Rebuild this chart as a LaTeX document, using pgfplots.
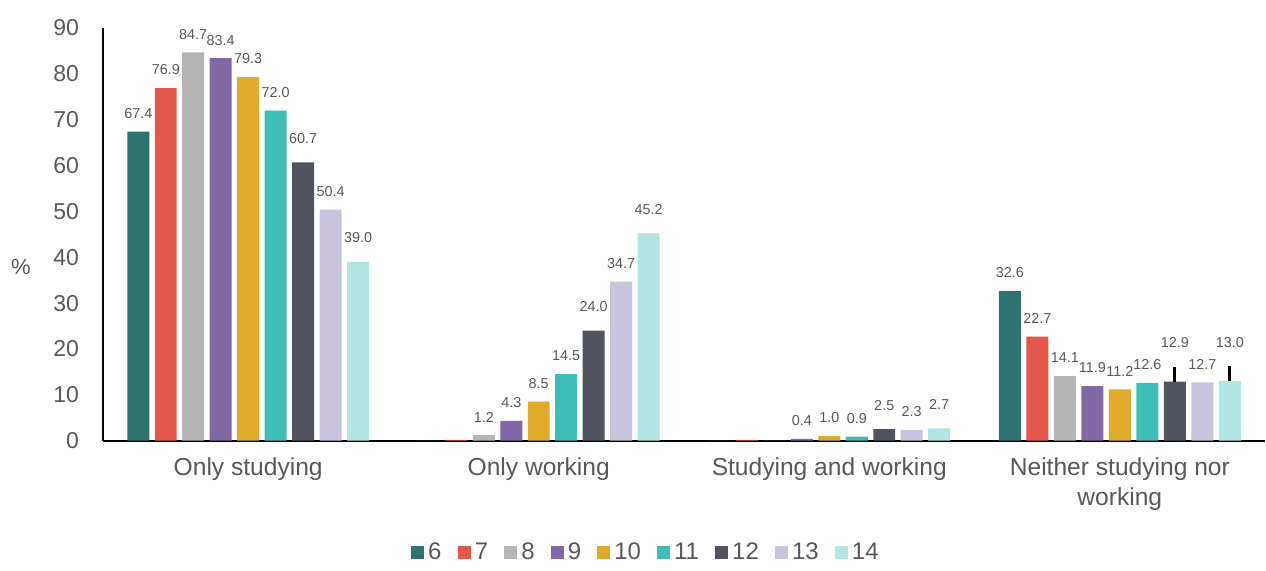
\documentclass[border=0pt]{standalone}
\usepackage{pgfplots}
\pgfplotsset{compat=1.18}
\usepackage{pgfplotstable}
\usepackage{fontspec}
\setmainfont{Liberation Sans}

\definecolor{c6}{HTML}{2E7370}
\definecolor{c7}{HTML}{E5574A}
\definecolor{c8}{HTML}{B5B5B5}
\definecolor{c9}{HTML}{8069A5}
\definecolor{c10}{HTML}{E0AB2A}
\definecolor{c11}{HTML}{3DBFB8}
\definecolor{c12}{HTML}{51535E}
\definecolor{c13}{HTML}{CAC3DE}
\definecolor{c14}{HTML}{B1E6E3}
\definecolor{txt}{HTML}{595959}

% groups: 0 only studying, 1 only working, 2 studying and working, 3 neither
\pgfplotstableread{
g  s6   s7   s8   s9   s10  s11  s12  s13  s14  e12  e14
0  67.4 76.9 84.7 83.4 79.3 72.0 60.7 50.4 39.0 0    0
1  0.0  0.2  1.2  4.3  8.5  14.5 24.0 34.7 45.2 0    0
2  0.0  0.2  0.0  0.4  1.0  0.9  2.5  2.3  2.7  0    0
3  32.6 22.7 14.1 11.9 11.2 12.6 12.9 12.7 13.0 3.2  3.2
}\data

\begin{document}
\begin{tikzpicture}
\begin{axis}[
  scale only axis,
  width=581.5pt, height=206.5pt,
  ybar=2.75pt, bar width=11pt,
  xmin=-0.5, xmax=3.5, ymin=0, ymax=90,
  axis x line*=bottom, axis y line*=left,
  axis line style={-, black, line width=0.9pt},
  major tick length=0pt,
  xtick={0,1,2,3},
  xticklabels={Only studying, Only working, Studying and working, {Neither studying nor\\working}},
  xticklabel style={align=center, font=\fontsize{12.3}{15}\selectfont, text=txt, yshift=-5pt},
  ytick={0,10,...,90},
  yticklabel style={font=\fontsize{11.5}{13}\selectfont, text=txt, xshift=-8.5pt},
  /pgf/number format/assume math mode=true,
  ylabel={\%},
  ylabel style={rotate=-90, font=\fontsize{11}{13}\selectfont, text=txt, at={(axis description cs:-0.0705,0.42)}, anchor=center},
  every axis plot/.append style={draw=none},
  visualization depends on=rawy \as \rawy,
  nodes near coords={\pgfmathparse{\rawy<0.35}\ifdim\pgfmathresult pt>0.5pt\relax\else\pgfmathprintnumber[fixed,fixed zerofill,precision=1]{\rawy}\fi},
  nodes near coords style={font=\fontsize{7.2}{8}\selectfont, text=txt, anchor=south, yshift=3pt},
  legend style={at={(0.468,-0.271)}, anchor=center, draw=none, legend columns=-1,
    font=\fontsize{12}{14}\selectfont, text=txt,
    /tikz/every even column/.append style={column sep=6pt}},
  legend image code/.code={\fill[#1,draw=none] (0pt,-3.3pt) rectangle (6.6pt,3.3pt);},
]
\addplot[fill=c6]  table[x=g,y=s6]  {\data};
\addplot[fill=c7]  table[x=g,y=s7]  {\data};
\addplot[fill=c8]  table[x=g,y=s8]  {\data};
\addplot[fill=c9]  table[x=g,y=s9]  {\data};
\addplot[fill=c10] table[x=g,y=s10] {\data};
\addplot[fill=c11] table[x=g,y=s11] {\data};
\addplot[fill=c12, visualization depends on=\thisrow{e12} \as \eb,
  nodes near coords style={yshift=3pt+2.294pt*\eb},
  error bars/.cd, y dir=plus, y explicit, error mark=none,
  error bar style={black, line width=1.5pt}] table[x=g,y=s12,y error=e12] {\data};
\addplot[fill=c13] table[x=g,y=s13] {\data};
\addplot[fill=c14, visualization depends on=\thisrow{e14} \as \eb,
  nodes near coords style={yshift=3pt+2.294pt*\eb},
  error bars/.cd, y dir=plus, y explicit, error mark=none,
  error bar style={black, line width=1.5pt}] table[x=g,y=s14,y error=e14] {\data};
\legend{6,7,8,9,10,11,12,13,14}
\end{axis}
% keep the blank margins that the reference has above and to the left
\path ([yshift=14pt]current axis.north);
\path ([xshift=-51.5pt]current axis.south west);
\end{tikzpicture}
\end{document}
